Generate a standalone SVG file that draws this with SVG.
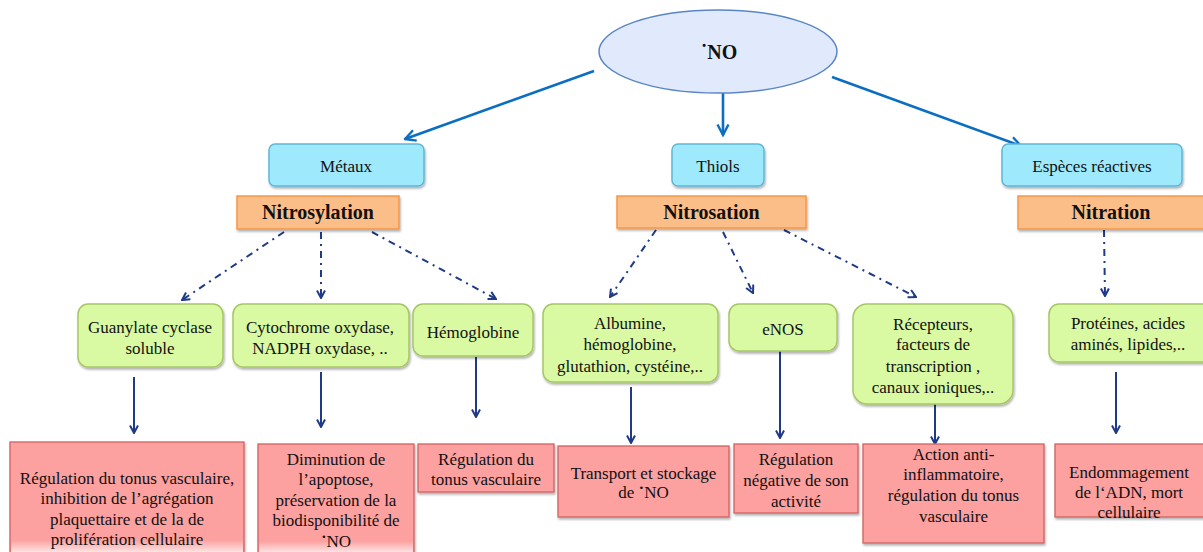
<svg xmlns="http://www.w3.org/2000/svg" width="1203" height="552" viewBox="0 0 1203 552">
<defs>
<style>
text{font-family:"Liberation Serif","Times New Roman",serif;font-size:17px;fill:#111;text-anchor:middle}
.b{font-weight:bold;font-size:20px}
.ell{fill:#e0eafc;stroke:#5a86c6;stroke-width:1.5}
.cy{fill:#9fe9fd;stroke:#62b6d6;stroke-width:1.5}
.or{fill:#fcbe88;stroke:#f79646;stroke-width:1.5}
.gr{fill:#d9f9a3;stroke:#a6c667;stroke-width:1.5}
.pk{fill:#fca0a0;stroke:#d26262;stroke-width:1.3}
.blue{stroke:#0b6fc1;stroke-width:2.6;fill:none}
.dd{stroke:#1f3a86;stroke-width:2;fill:none;stroke-dasharray:7 5 2 5}
.sol{stroke:#1f3a86;stroke-width:2;fill:none}
.dot{font-weight:bold}
</style>
<filter id="sh" x="-10%" y="-10%" width="130%" height="140%">
<feDropShadow dx="1" dy="2" stdDeviation="1.2" flood-color="#000" flood-opacity="0.3"/>
</filter>
<marker id="ab" viewBox="0 0 14 14" refX="12.5" refY="7" markerWidth="14" markerHeight="14" markerUnits="userSpaceOnUse" orient="auto">
<path d="M2,1.5 L12.5,7 L2,12.5" fill="none" stroke="#0b6fc1" stroke-width="2.4"/>
</marker>
<marker id="an" viewBox="0 0 10 10" refX="9" refY="5" markerWidth="10" markerHeight="10" markerUnits="userSpaceOnUse" orient="auto">
<path d="M1.5,1 L9,5 L1.5,9" fill="none" stroke="#1f3a86" stroke-width="2"/>
</marker>
<linearGradient id="fade" x1="0" y1="0" x2="0" y2="1">
<stop offset="0" stop-color="#fff" stop-opacity="0"/>
<stop offset="1" stop-color="#fff" stop-opacity="0.7"/>
</linearGradient>
</defs>

<g id="connectors">
<line class="blue" x1="594" y1="71" x2="405" y2="139" marker-end="url(#ab)"/>
<line class="blue" x1="723" y1="93" x2="723" y2="135" marker-end="url(#ab)"/>
<line class="blue" x1="832" y1="77" x2="1021" y2="146" marker-end="url(#ab)"/>
<line class="dd" x1="284" y1="232" x2="182" y2="300" marker-end="url(#an)"/>
<line class="dd" x1="321" y1="232" x2="321" y2="298" marker-end="url(#an)"/>
<line class="dd" x1="372" y1="232" x2="496" y2="299" marker-end="url(#an)"/>
<line class="dd" x1="656" y1="230" x2="610" y2="297" marker-end="url(#an)"/>
<line class="dd" x1="723" y1="232" x2="753" y2="293" marker-end="url(#an)"/>
<line class="dd" x1="784" y1="230" x2="916" y2="297" marker-end="url(#an)"/>
<line class="dd" x1="1104" y1="230" x2="1105" y2="296" marker-end="url(#an)"/>
<line class="sol" x1="134" y1="377" x2="134" y2="433" marker-end="url(#an)"/>
<line class="sol" x1="321" y1="372" x2="321" y2="427" marker-end="url(#an)"/>
<line class="sol" x1="476" y1="357" x2="476" y2="417" marker-end="url(#an)"/>
<line class="sol" x1="631" y1="387" x2="631" y2="443" marker-end="url(#an)"/>
<line class="sol" x1="780" y1="351" x2="780" y2="438" marker-end="url(#an)"/>
<line class="sol" x1="935" y1="404" x2="935" y2="444" marker-end="url(#an)"/>
<line class="sol" x1="1116" y1="372" x2="1116" y2="433" marker-end="url(#an)"/>
</g>

<g id="no">
<ellipse class="ell" cx="718" cy="51.5" rx="119" ry="41.5"/>
<text class="b" x="719" y="59">˙NO</text>
</g>

<g id="metaux"><rect class="cy" filter="url(#sh)" x="269" y="144" width="155" height="42" rx="6"/><text x="346" y="172">Métaux</text></g>
<g id="thiols"><rect class="cy" filter="url(#sh)" x="672" y="144" width="92" height="42" rx="6"/><text x="718" y="172">Thiols</text></g>
<g id="especes"><rect class="cy" filter="url(#sh)" x="1002" y="144" width="180" height="42" rx="6"/><text x="1092" y="172">Espèces réactives</text></g>

<g id="nitrosylation"><rect class="or" filter="url(#sh)" x="237" y="196" width="162" height="33"/><text class="b" x="318" y="219">Nitrosylation</text></g>
<g id="nitrosation"><rect class="or" filter="url(#sh)" x="617" y="196" width="189" height="32"/><text class="b" x="711.5" y="219">Nitrosation</text></g>
<g id="nitration"><rect class="or" filter="url(#sh)" x="1018" y="196" width="190" height="33"/><text class="b" x="1111" y="219">Nitration</text></g>

<g id="guanylate"><rect class="gr" filter="url(#sh)" x="78" y="304" width="145" height="63" rx="10"/><text x="150" y="333">Guanylate cyclase</text><text x="150" y="354">soluble</text></g>
<g id="cytochrome"><rect class="gr" filter="url(#sh)" x="233" y="304" width="176" height="63" rx="10"/><text x="320" y="333">Cytochrome oxydase,</text><text x="320" y="354">NADPH oxydase, ..</text></g>
<g id="hemoglobine"><rect class="gr" filter="url(#sh)" x="413" y="304" width="120" height="52" rx="10"/><text x="473" y="338">Hémoglobine</text></g>
<g id="albumine"><rect class="gr" filter="url(#sh)" x="543" y="304" width="175" height="78" rx="10"/><text x="630" y="329">Albumine,</text><text x="630" y="350">hémoglobine,</text><text x="630" y="372">glutathion, cystéine,..</text></g>
<g id="enos"><rect class="gr" filter="url(#sh)" x="729" y="304" width="108" height="47" rx="10"/><text x="783" y="335">eNOS</text></g>
<g id="recepteurs"><rect class="gr" filter="url(#sh)" x="853" y="304" width="160" height="100" rx="14"/><text x="933" y="330">Récepteurs,</text><text x="933" y="350">facteurs de</text><text x="933" y="372">transcription ,</text><text x="933" y="393">canaux ioniques,..</text></g>
<g id="proteines"><rect class="gr" filter="url(#sh)" x="1049" y="304" width="165" height="58" rx="10"/><text x="1128" y="329">Protéines, acides</text><text x="1128" y="350">aminés, lipides,..</text></g>

<g id="r1"><rect class="pk" filter="url(#sh)" x="10" y="442" width="234" height="120"/><rect x="11" y="540" width="232" height="12" fill="url(#fade)"/><text x="127" y="484">Régulation du tonus vasculaire,</text><text x="127" y="504">inhibition  de l’agrégation</text><text x="127" y="525">plaquettaire et de la de</text><text x="127" y="545">prolifération cellulaire</text></g>
<g id="r2"><rect class="pk" filter="url(#sh)" x="258" y="444" width="156" height="118"/><rect x="259" y="541" width="154" height="11" fill="url(#fade)"/><text x="336" y="465">Diminution de</text><text x="336" y="485">l’apoptose,</text><text x="336" y="506">préservation de la</text><text x="336" y="526">biodisponibilité de</text><text x="336" y="547"><tspan class="dot">˙</tspan>NO</text></g>
<g id="r3"><rect class="pk" filter="url(#sh)" x="418" y="444" width="136" height="48"/><text x="486" y="465">Régulation du</text><text x="486" y="485">tonus vasculaire</text></g>
<g id="r4"><rect class="pk" filter="url(#sh)" x="558" y="446" width="171" height="71"/><text x="643.5" y="479">Transport et stockage</text><text x="643.5" y="498">de <tspan class="dot">˙</tspan>NO</text></g>
<g id="r5"><rect class="pk" filter="url(#sh)" x="734" y="444" width="124" height="69"/><text x="796" y="465">Régulation</text><text x="796" y="486">négative de son</text><text x="796" y="507">activité</text></g>
<g id="r6"><rect class="pk" filter="url(#sh)" x="863" y="444" width="181" height="99"/><text x="953.5" y="460">Action anti-</text><text x="953.5" y="480">inflammatoire,</text><text x="953.5" y="501">régulation du  tonus</text><text x="953.5" y="522">vasculaire</text></g>
<g id="r7"><rect class="pk" filter="url(#sh)" x="1055" y="444" width="160" height="73"/><text x="1129" y="478">Endommagement</text><text x="1129" y="498">de l‘ADN, mort</text><text x="1129" y="518">cellulaire</text></g>
</svg>
